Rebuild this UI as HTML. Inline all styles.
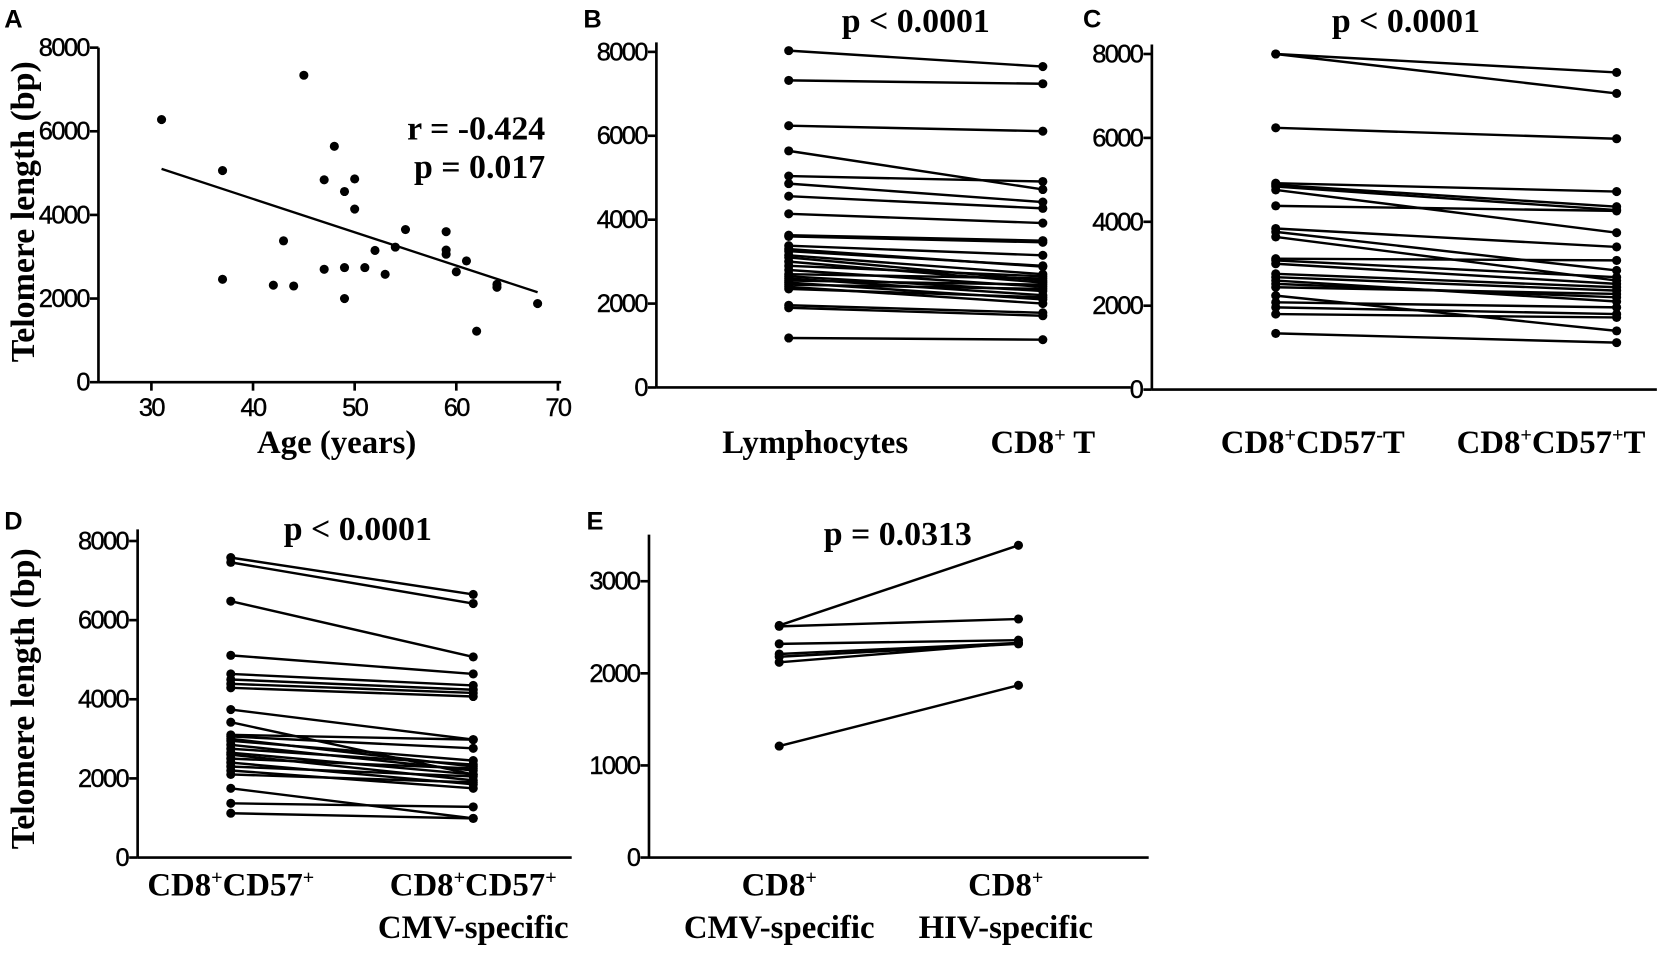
<!DOCTYPE html>
<html><head><meta charset="utf-8"><style>
body{margin:0;background:#fff}
svg{display:block}
.t{font-family:"Liberation Sans",Arial,sans-serif;font-size:24px;letter-spacing:-1.5px;stroke:#000;stroke-width:0.4}
.s{font-family:"Liberation Serif",serif;font-weight:bold;font-size:31px}
.p{font-family:"Liberation Serif",serif;font-weight:bold;font-size:32px}
.L{font-family:"Liberation Sans",Arial,sans-serif;font-weight:bold;font-size:24px}
</style></head><body>
<svg width="1660" height="955" viewBox="0 0 1660 955" xmlns="http://www.w3.org/2000/svg">
<g id="g" transform="scale(1.0587)">
<text class="L" x="4" y="26">A</text>
<text class="L" x="551" y="26">B</text>
<text class="L" x="1023" y="26">C</text>
<text class="L" x="4" y="500">D</text>
<text class="L" x="554" y="500">E</text>
<text class="s" x="318" y="428" text-anchor="middle">Age (years)</text>
<text class="p" transform="translate(32,200) rotate(-90)" text-anchor="middle">Telomere length (bp)</text>
<text class="p" transform="translate(32,660) rotate(-90)" text-anchor="middle">Telomere length (bp)</text>
<text class="p" x="515" y="132" text-anchor="end">r = -0.424</text>
<text class="p" x="515" y="168" text-anchor="end">p = 0.017</text>
<text class="p" x="865" y="30" text-anchor="middle">p &lt; 0.0001</text>
<text class="p" x="1328" y="30" text-anchor="middle">p &lt; 0.0001</text>
<text class="p" x="338" y="510" text-anchor="middle">p &lt; 0.0001</text>
<text class="p" x="848" y="515" text-anchor="middle">p = 0.0313</text>
<text class="s" x="770" y="428" text-anchor="middle">Lymphocytes</text>
<text class="s" x="985" y="428" text-anchor="middle">CD8<tspan font-size="19" dy="-11">+</tspan><tspan dy="11"> T</tspan></text>
<text class="s" x="1240" y="428" text-anchor="middle">CD8<tspan font-size="19" dy="-11">+</tspan><tspan dy="11">CD57</tspan><tspan font-size="19" dy="-11">-</tspan><tspan dy="11">T</tspan></text>
<text class="s" x="1465" y="428" text-anchor="middle">CD8<tspan font-size="19" dy="-11">+</tspan><tspan dy="11">CD57</tspan><tspan font-size="19" dy="-11">+</tspan><tspan dy="11">T</tspan></text>
<text class="s" x="218" y="846" text-anchor="middle">CD8<tspan font-size="19" dy="-11">+</tspan><tspan dy="11">CD57</tspan><tspan font-size="19" dy="-11">+</tspan></text>
<text class="s" x="447" y="846" text-anchor="middle">CD8<tspan font-size="19" dy="-11">+</tspan><tspan dy="11">CD57</tspan><tspan font-size="19" dy="-11">+</tspan></text>
<text class="s" x="447" y="886" text-anchor="middle">CMV-specific</text>
<text class="s" x="736" y="846" text-anchor="middle">CD8<tspan font-size="19" dy="-11">+</tspan></text>
<text class="s" x="736" y="886" text-anchor="middle">CMV-specific</text>
<text class="s" x="950" y="846" text-anchor="middle">CD8<tspan font-size="19" dy="-11">+</tspan></text>
<text class="s" x="950" y="886" text-anchor="middle">HIV-specific</text>
</g>
</svg>
<script>
var g=document.getElementById('g'),NS='http://www.w3.org/2000/svg';
function el(n,a,t){var e=document.createElementNS(NS,n);for(var k in a)e.setAttribute(k,a[k]);if(t!=null)e.textContent=t;g.appendChild(e);return e;}
function ln(x1,y1,x2,y2,w){el('line',{x1:x1,y1:y1,x2:x2,y2:y2,stroke:'#000','stroke-width':w||2.5});}
function dot(x,y){el('circle',{cx:x,cy:y,r:4.3,fill:'#000'});}
function yaxis(ax,y0,yTop,step,scale,max,xEnd){
  ln(ax,y0,ax,yTop,2.5); ln(ax,y0,xEnd,y0,2.5);
  for(var v=0;v<=max;v+=step){var y=y0-v*scale;ln(ax-8,y,ax,y,2.5);
    el('text',{x:ax-9,y:y+8,'text-anchor':'end','class':'t'},String(v));}
}
var A={ax:93,y0:361,s:316/8000};
yaxis(93,361,45,2000,A.s,8000,530);
for(var a=30;a<=70;a+=10){var x=143+(a-30)*9.6;ln(x,361,x,369,2.5);el('text',{x:x,y:393,'text-anchor':'middle','class':'t'},String(a));}
var pts=[[31,6280],[37,5060],[37,2460],[42,2320],[43,3380],[44,2300],[45,7340],[47,4840],[47,2700],[48,5640],[49,4560],[49,2740],[49,2000],[50,4860],[50,4140],[51,2740],[52,3150],[53,2580],[54,3230],[55,3650],[59,3600],[59,3160],[59,3060],[60,2640],[61,2900],[62,1220],[64,2340],[64,2270],[68,1880]];
function ax(a){return 143+(a-30)*9.6}
ln(ax(31),361-5100*A.s,ax(68),361-2150*A.s,2.2);
pts.forEach(function(p){dot(ax(p[0]),361-p[1]*A.s)});
function pairs(xl,xr,y0,s,data){data.forEach(function(d){ln(xl,y0-d[0]*s,xr,y0-d[1]*s,2.3)});data.forEach(function(d){dot(xl,y0-d[0]*s);dot(xr,y0-d[1]*s)});}
var sB=317/8000;yaxis(620,366,40,2000,sB,8000,1068);
pairs(745,985,366,sB,[[8030,7650],[7320,7240],[6240,6110],[5640,4720],[5040,4910],[4860,4420],[4560,4270],[4140,3920],[3630,3500],[3600,3460],[3380,3150],[3300,2880],[3250,2900],[3150,2700],[3100,2550],[3000,2500],[2900,2650],[2800,2400],[2700,2600],[2650,2300],[2600,2200],[2550,2450],[2500,2100],[2450,2350],[2400,2000],[2350,2150],[1960,1780],[1900,1710],[1180,1140]]);
var sC=317/8000;yaxis(1088,368,42,2000,sC,8000,1565);
pairs(1205,1527,368,sC,[[8000,7560],[8000,7060],[6240,5980],[4920,4720],[4880,4360],[4840,4280],[4760,3740],[4380,4260],[3840,3400],[3760,2840],[3640,2600],[3120,3080],[3080,2680],[3000,2520],[2760,2440],[2680,2360],[2600,2100],[2520,2200],[2440,2280],[2240,1400],[2080,1960],[1960,1800],[1800,1720],[1340,1120]]);
var sD=299/8000;yaxis(130,810,500,2000,sD,8000,540);
pairs(218,447,810,sD,[[7580,6650],[7460,6420],[6480,5070],[5110,4640],[4640,4350],[4500,4240],[4390,4160],[4290,4070],[3740,2980],[3420,2100],[3100,2980],[3060,2760],[3000,2300],[2950,2450],[2850,2200],[2750,2350],[2650,2100],[2600,1950],[2500,2250],[2400,1850],[2300,2050],[2200,1750],[2100,1900],[1750,990],[1370,1280],[1120,990]]);
var sE=261/3000;yaxis(613,810,505,1000,sE,3000,1085);
pairs(736,962,810,sE,[[2520,3390],[2510,2590],[2320,2360],[2210,2330],[2180,2320],[2120,2330],[1210,1870]]);
</script>
</body></html>
